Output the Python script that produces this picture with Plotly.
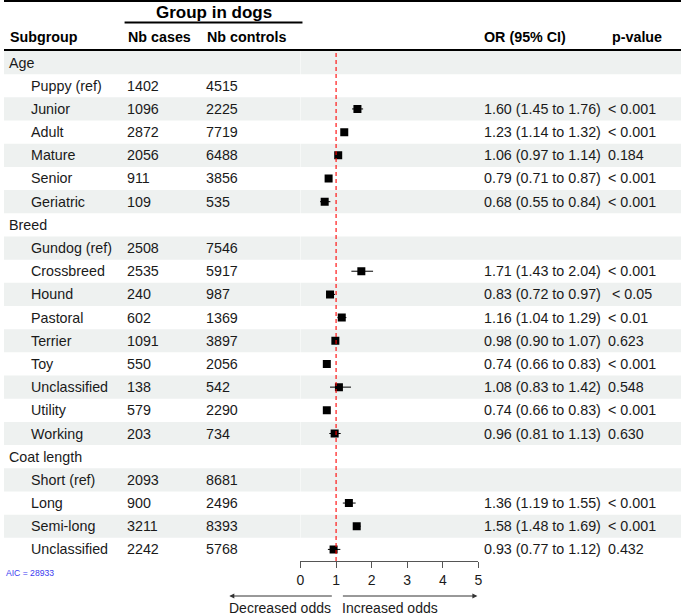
import plotly.graph_objects as go

# ---------------- data ----------------
labels = ["Age", "Puppy (ref)", "Junior", "Adult", "Mature", "Senior", "Geriatric",
          "Breed", "Gundog (ref)", "Crossbreed", "Hound", "Pastoral", "Terrier", "Toy",
          "Unclassified", "Utility", "Working",
          "Coat length", "Short (ref)", "Long", "Semi-long", "Unclassified"]
cases = [None, 1402, 1096, 2872, 2056, 911, 109,
         None, 2508, 2535, 240, 602, 1091, 550, 138, 579, 203,
         None, 2093, 900, 3211, 2242]
controls = [None, 4515, 2225, 7719, 6488, 3856, 535,
            None, 7546, 5917, 987, 1369, 3897, 2056, 542, 2290, 734,
            None, 8681, 2496, 8393, 5768]
or_est = [None, None, 1.60, 1.23, 1.06, 0.79, 0.68,
          None, None, 1.71, 0.83, 1.16, 0.98, 0.74, 1.08, 0.74, 0.96,
          None, None, 1.36, 1.58, 0.93]
or_lo = [None, None, 1.45, 1.14, 0.97, 0.71, 0.55,
         None, None, 1.43, 0.72, 1.04, 0.90, 0.66, 0.83, 0.66, 0.81,
         None, None, 1.19, 1.48, 0.77]
or_hi = [None, None, 1.76, 1.32, 1.14, 0.87, 0.84,
         None, None, 2.04, 0.97, 1.29, 1.07, 0.83, 1.42, 0.83, 1.13,
         None, None, 1.55, 1.69, 1.12]
pvals = ["", "", "< 0.001", "< 0.001", "0.184", "< 0.001", "< 0.001",
         "", "", "< 0.001", " < 0.05", "< 0.01", "0.623", "< 0.001", "0.548", "< 0.001", "0.630",
         "", "", "< 0.001", "< 0.001", "0.432"]
x_ticks = [0, 1, 2, 3, 4, 5]
aic_text = "AIC = 28933"

# ---------------- layout helpers ----------------
W, H = 685, 615
FONT = "Liberation Sans, Arial, sans-serif"
n = len(labels)
top_px, bot_px = 51, 561


def px(x):
    return x / W


def py(y):
    return 1 - y / H


fig = go.Figure()

# row bands
shapes = []
for i in range(n):
    if i % 2 == 0:
        shapes.append(dict(type="rect", xref="paper", yref="y", x0=0, x1=1,
                           y0=i - 0.5, y1=i + 0.5, fillcolor="#eef1f0",
                           line=dict(width=0), layer="below"))
# faint white vertical separator at panel edge
shapes.append(dict(type="line", xref="x", yref="y", x0=0, x1=0,
                   y0=-0.5, y1=n - 0.5, line=dict(color="white", width=1),
                   layer="below"))
# reference line at OR = 1
shapes.append(dict(type="line", xref="x", yref="paper", x0=1, x1=1,
                   y0=py(bot_px), y1=py(top_px),
                   line=dict(color="#ff0000", width=1.1, dash="4px,3px")))
# top rule, header rule, group underline
shapes.append(dict(type="line", xref="paper", yref="paper", x0=0, x1=1,
                   y0=py(1), y1=py(1), line=dict(color="black", width=2)))
shapes.append(dict(type="line", xref="paper", yref="paper", x0=0, x1=1,
                   y0=py(50), y1=py(50), line=dict(color="black", width=2)))
shapes.append(dict(type="line", xref="paper", yref="paper", x0=px(122), x1=px(302),
                   y0=py(22.5), y1=py(22.5), line=dict(color="black", width=2)))

# forest points
xs, ys, ep, em = [], [], [], []
for i in range(n):
    if or_est[i] is not None:
        xs.append(or_est[i])
        ys.append(i)
        ep.append(or_hi[i] - or_est[i])
        em.append(or_est[i] - or_lo[i])

fig.add_trace(go.Scatter(
    x=xs, y=ys, mode="markers",
    marker=dict(symbol="square", size=8, color="black", line=dict(width=0)),
    error_x=dict(type="data", array=ep, arrayminus=em, thickness=1, width=0, color="black"),
    showlegend=False, hoverinfo="skip"))

ann = []
txt_col = "#1a1a1a"
fs = 14.3
for i in range(n):
    is_group = cases[i] is None
    ann.append(dict(x=px(3 if is_group else 25), y=i, xref="paper", yref="y",
                    text=labels[i], showarrow=False, xanchor="left", yanchor="middle",
                    font=dict(size=fs, color=txt_col, family=FONT)))
    if not is_group:
        ann.append(dict(x=px(122), y=i, xref="paper", yref="y", text=str(cases[i]),
                        showarrow=False, xanchor="left", yanchor="middle",
                        font=dict(size=fs, color=txt_col, family=FONT)))
        ann.append(dict(x=px(202), y=i, xref="paper", yref="y", text=str(controls[i]),
                        showarrow=False, xanchor="left", yanchor="middle",
                        font=dict(size=fs, color=txt_col, family=FONT)))
    if or_est[i] is not None:
        ann.append(dict(x=px(484), y=i, xref="paper", yref="y",
                        text=f"{or_est[i]:.2f} ({or_lo[i]:.2f} to {or_hi[i]:.2f})",
                        showarrow=False, xanchor="left", yanchor="middle",
                        font=dict(size=fs, color=txt_col, family=FONT)))
        ann.append(dict(x=px(609), y=i, xref="paper", yref="y", text=pvals[i].replace(" ", "\u00a0"),
                        showarrow=False, xanchor="left", yanchor="middle",
                        font=dict(size=fs, color=txt_col, family=FONT)))

# headers
hdr = [("Subgroup", 4), ("Nb cases", 123), ("Nb controls", 203),
       ("OR (95% CI)", 484), ("p-value", 613)]
for t, x in hdr:
    ann.append(dict(x=px(x), y=py(37), xref="paper", yref="paper", text=f"<b>{t}</b>",
                    showarrow=False, xanchor="left", yanchor="middle",
                    font=dict(size=14.3, color="black", family=FONT)))
ann.append(dict(x=px(212), y=py(12), xref="paper", yref="paper", text="<b>Group in dogs</b>",
                showarrow=False, xanchor="center", yanchor="middle",
                font=dict(size=17, color="black", family=FONT)))

# AIC
ann.append(dict(x=px(0), y=py(573), xref="paper", yref="paper", text=aic_text,
                showarrow=False, xanchor="left", yanchor="middle",
                font=dict(size=8.6, color="#3b3bf0", family=FONT)))

# direction arrows and labels
arrow_y = py(596)
ann.append(dict(x=px(228), y=arrow_y, xref="paper", yref="paper", text="",
                showarrow=True, ax=104, ay=0, arrowhead=2, arrowsize=1,
                arrowwidth=1, arrowcolor="#333333"))
ann.append(dict(x=px(479), y=arrow_y, xref="paper", yref="paper", text="",
                showarrow=True, ax=-136, ay=0, arrowhead=2, arrowsize=1,
                arrowwidth=1, arrowcolor="#333333"))
ann.append(dict(x=px(333), y=py(608), xref="paper", yref="paper", text="Decreased odds",
                showarrow=False, xanchor="right", yanchor="middle",
                font=dict(size=14, color=txt_col, family=FONT)))
ann.append(dict(x=px(340), y=py(608), xref="paper", yref="paper", text="Increased odds",
                showarrow=False, xanchor="left", yanchor="middle",
                font=dict(size=14, color=txt_col, family=FONT)))

fig.update_layout(
    width=W, height=H,
    margin=dict(l=0, r=0, t=0, b=0),
    paper_bgcolor="white", plot_bgcolor="rgba(0,0,0,0)",
    shapes=shapes, annotations=ann,
    xaxis=dict(domain=[px(300), px(480)], range=[0, 5], tickvals=x_ticks,
               showgrid=False, zeroline=False, showline=True, linecolor="#555555",
               linewidth=1, ticks="outside", ticklen=6, tickcolor="#555555",
               tickfont=dict(size=14, color=txt_col, family=FONT)),
    yaxis=dict(domain=[py(bot_px), py(top_px)], range=[n - 0.5, -0.5],
               showgrid=False, zeroline=False, showticklabels=False, showline=False),
)

fig.write_html("out.html", config={"displayModeBar": False},
               post_script="document.body.style.margin='0';document.body.style.overflow='hidden';")
